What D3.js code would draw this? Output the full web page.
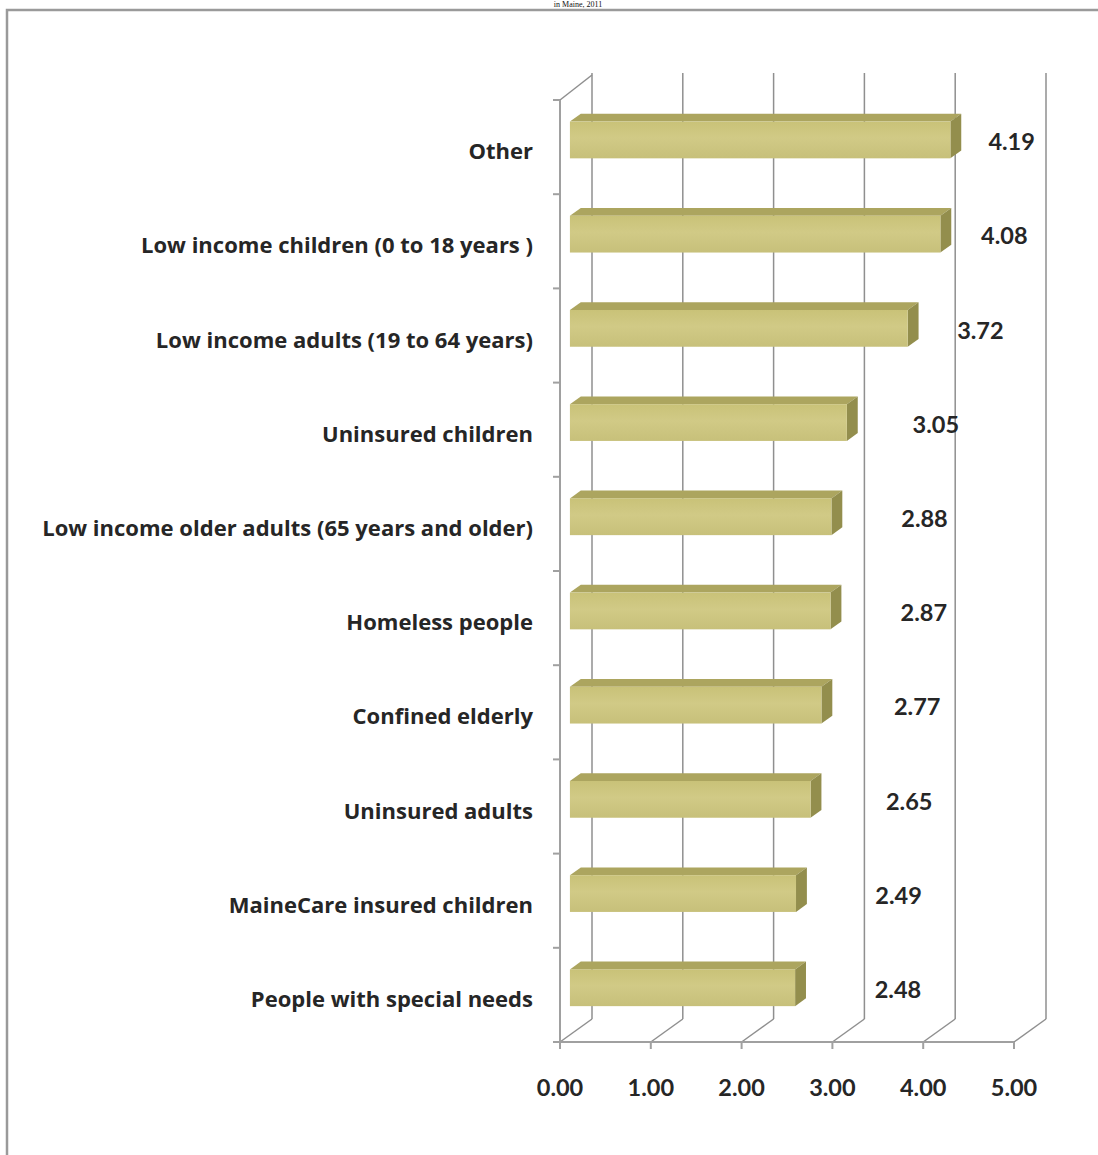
<!DOCTYPE html>
<html>
<head>
<meta charset="utf-8">
<script src="https://cdn.jsdelivr.net/npm/d3@7"></script>
<style>
  html, body { margin: 0; padding: 0; background: #fff; }
  svg { display: block; }
</style>
</head>
<body>
<svg id="chart" width="1098" height="1155"></svg>
<script>
const categories = [
  "Other",
  "Low income children (0 to 18 years )",
  "Low income adults (19 to 64 years)",
  "Uninsured children",
  "Low income older adults (65 years and older)",
  "Homeless people ",
  "Confined elderly",
  "Uninsured adults",
  "MaineCare insured children",
  "People with special needs"
];
const values = [4.19, 4.08, 3.72, 3.05, 2.88, 2.87, 2.77, 2.65, 2.49, 2.48];
const tickValues = [0, 1, 2, 3, 4, 5];
const tickLabels = ["0.00", "1.00", "2.00", "3.00", "4.00", "5.00"];
const titleFragment = "in Maine, 2011";

const svg = d3.select("#chart");
const W = 1098, H = 1155;
const labelFont = "'Open Sans', Lato, sans-serif";
const numFont = "Lato, 'Open Sans', sans-serif";

// frame border
svg.append("path")
  .attr("d", `M7,${H} L7,10 L${W},10`)
  .attr("fill", "none").attr("stroke", "#9a9a9a").attr("stroke-width", 2.5);

// title (mostly cut off in the source)
svg.append("text")
  .attr("x", 578).attr("y", 7)
  .attr("text-anchor", "middle")
  .attr("font-family", "'Liberation Serif', serif")
  .attr("font-size", 8).attr("fill", "#111")
  .text(titleFragment);

// scales
const x = d3.scaleLinear().domain([0, 5]).range([560, 1014]);
const y = d3.scaleBand().domain(categories).range([100, 1042]).padding(0);
const depth = { dx: 32, dy: -23 };
const zFront = 0.31, zBack = 0.65;
const labelX = d3.scaleLinear().domain([0, 5]).range([733, 1065.5]);

const floorY = y.range()[1];
const topY = y.range()[0];
const backTop = 73;
const gridColor = "#8f8f8f";

const g = svg.append("g");
tickValues.forEach(v => {
  g.append("line")
    .attr("x1", x(v) + depth.dx).attr("x2", x(v) + depth.dx)
    .attr("y1", floorY + depth.dy).attr("y2", backTop)
    .attr("stroke", gridColor).attr("stroke-width", 1.5);
  g.append("line")
    .attr("x1", x(v)).attr("y1", floorY)
    .attr("x2", x(v) + depth.dx).attr("y2", floorY + depth.dy)
    .attr("stroke", gridColor).attr("stroke-width", 1.5);
});

g.append("line")
  .attr("x1", x(0)).attr("y1", topY)
  .attr("x2", x(0) + depth.dx).attr("y2", topY + depth.dy - 2)
  .attr("stroke", gridColor).attr("stroke-width", 1.5);

const axisColor = "#a0a0a0";
g.append("line")
  .attr("x1", x(0)).attr("x2", x(0)).attr("y1", topY).attr("y2", floorY)
  .attr("stroke", axisColor).attr("stroke-width", 2);
g.append("line")
  .attr("x1", x(0) - 7).attr("x2", x(5)).attr("y1", floorY).attr("y2", floorY)
  .attr("stroke", axisColor).attr("stroke-width", 2);

const bounds = categories.map(c => y(c)).concat([floorY]);
bounds.forEach(b => {
  g.append("line")
    .attr("x1", x(0) - 7).attr("x2", x(0)).attr("y1", b).attr("y2", b)
    .attr("stroke", axisColor).attr("stroke-width", 2);
});
tickValues.forEach(v => {
  g.append("line")
    .attr("x1", x(v)).attr("x2", x(v)).attr("y1", floorY).attr("y2", floorY + 7)
    .attr("stroke", axisColor).attr("stroke-width", 2);
});

const defs = svg.append("defs");
const grad = defs.append("linearGradient").attr("id", "front")
  .attr("x1", 0).attr("y1", 0).attr("x2", 0).attr("y2", 1);
grad.append("stop").attr("offset", "0%").attr("stop-color", "#c9c278");
grad.append("stop").attr("offset", "45%").attr("stop-color", "#d1ca86");
grad.append("stop").attr("offset", "100%").attr("stop-color", "#c7c07a");

const barH = y.bandwidth() * 0.39;
const fdx = depth.dx * zFront, fdy = depth.dy * zFront;
const bdx = depth.dx * (zBack - zFront), bdy = depth.dy * (zBack - zFront);

const bars = svg.append("g");
categories.forEach((c, i) => {
  const v = values[i];
  const cy = y(c) + y.bandwidth() / 2 + fdy;
  const x0 = x(0) + fdx, x1 = x(v) + fdx;
  const yt = cy - barH / 2, yb = cy + barH / 2;
  bars.append("path")
    .attr("d", `M${x0},${yt} L${x0 + bdx},${yt + bdy} L${x1 + bdx},${yt + bdy} L${x1},${yt} Z`)
    .attr("fill", "#aca55f");
  bars.append("path")
    .attr("d", `M${x1},${yt} L${x1 + bdx},${yt + bdy} L${x1 + bdx},${yb + bdy} L${x1},${yb} Z`)
    .attr("fill", "#938e4d");
  bars.append("rect")
    .attr("x", x0).attr("y", yt).attr("width", x1 - x0).attr("height", barH)
    .attr("fill", "url(#front)");
});

// category labels, sized so the longest one spans like the source
const labels = svg.append("g");
const catText = labels.selectAll("text.cat").data(categories).enter().append("text")
  .attr("class", "cat")
  .attr("x", 533).attr("y", c => y(c) + y.bandwidth() / 2 + 3)
  .attr("text-anchor", "end").attr("dominant-baseline", "central")
  .attr("font-family", labelFont).attr("font-weight", 700).attr("font-size", 20)
  .attr("fill", "#262626")
  .text(c => c);
let maxW = 0;
catText.each(function () { maxW = Math.max(maxW, this.getComputedTextLength()); });
const fitSize = Math.min(23, Math.max(17, 20 * 491 / maxW));
catText.attr("font-size", fitSize);

categories.forEach((c, i) => {
  labels.append("text")
    .attr("x", labelX(values[i])).attr("y", y(c) + y.bandwidth() / 2 - 6)
    .attr("text-anchor", "middle").attr("dominant-baseline", "central")
    .attr("font-family", numFont).attr("font-weight", 700).attr("font-size", 23.5)
    .attr("fill", "#262626")
    .text(values[i].toFixed(2));
});

tickValues.forEach((v, i) => {
  labels.append("text")
    .attr("x", x(v)).attr("y", 1087)
    .attr("text-anchor", "middle").attr("dominant-baseline", "central")
    .attr("font-family", numFont).attr("font-weight", 700).attr("font-size", 23.5)
    .attr("fill", "#262626")
    .text(tickLabels[i]);
});
</script>
</body>
</html>
